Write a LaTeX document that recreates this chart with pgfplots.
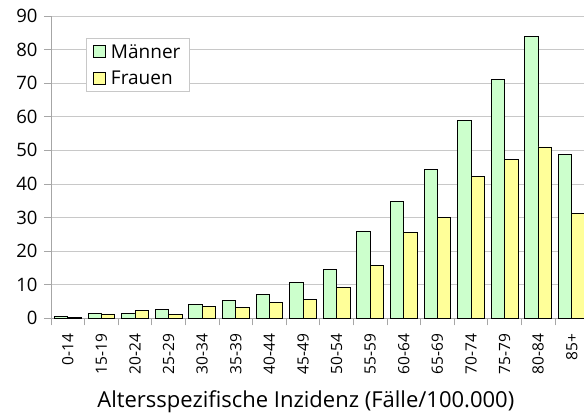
\documentclass[border=0pt]{standalone}
\usepackage{fontspec}
\setmainfont{Open Sans}
\usepackage{pgfplots}
\pgfplotsset{compat=1.18}
\definecolor{mgreen}{HTML}{CCFFCC}
\definecolor{fyellow}{HTML}{FFFF99}
\definecolor{gridgray}{HTML}{C8C8C8}
\definecolor{axgray}{HTML}{A6A6A6}
\newcommand{\xl}{\fontsize{15.5}{17}\selectfont}
\begin{document}
\begin{tikzpicture}
\begin{axis}[
  scale only axis, width=537.6pt, height=302.3pt,
  xmin=-0.5, xmax=15.5, ymin=0, ymax=90,
  ybar=0pt, bar width=13.4pt,
  axis x line*=bottom, axis y line*=left,
  axis line style={draw=axgray, line width=0.8pt, -},
  xtick={-0.5,0.5,1.5,2.5,3.5,4.5,5.5,6.5,7.5,8.5,9.5,10.5,11.5,12.5,13.5,14.5,15.5},
  x tick label as interval,
  xticklabels={\xl 0-14,\xl 15-19,\xl 20-24,\xl 25-29,\xl 30-34,\xl 35-39,\xl 40-44,\xl 45-49,\xl 50-54,\xl 55-59,\xl 60-64,\xl 65-69,\xl 70-74,\xl 75-79,\xl 80-84,\xl 85+},
  xticklabel style={rotate=90, anchor=east, xshift=-5pt},
  ytick={0,10,...,90},
  yticklabel={\fontsize{18.5}{20}\selectfont\pgfmathprintnumber{\tick}},
  ymajorgrids, grid style={draw=gridgray, line width=0.8pt},
  tick align=outside, major tick length=7pt,
  tick style={draw=axgray, line width=0.8pt},
  yticklabel style={xshift=-3pt},
  /pgf/number format/assume math mode=true,
  legend style={at={(axis description cs:0.0651,0.9272)}, anchor=north west,
    draw=gridgray, fill=white, font=\fontsize{19}{21}\selectfont,
    inner xsep=7pt, inner ysep=4pt, row sep=7pt,
    /tikz/every odd column/.append style={column sep=3pt}},
  legend cell align=left,
  legend image code/.code={\draw[#1, line width=0.8pt] (0pt,-6pt) rectangle (12pt,6pt);},
  xlabel={Altersspezifische Inzidenz (Fälle/100.000)},
  xlabel style={at={(axis description cs:0.474,-0.2935)}, anchor=base, font=\fontsize{22}{24}\selectfont},
]
\addplot[draw=black, fill=mgreen, line width=0.8pt] coordinates {
(0,0.6) (1,1.5) (2,1.4) (3,2.7) (4,4.2) (5,5.4) (6,7.1) (7,10.7)
(8,14.6) (9,26.0) (10,34.8) (11,44.4) (12,59.0) (13,71.0) (14,84.0) (15,48.8)};
\addplot[draw=black, fill=fyellow, line width=0.8pt] coordinates {
(0,0.3) (1,1.3) (2,2.3) (3,1.2) (4,3.4) (5,3.3) (6,4.6) (7,5.7)
(8,9.2) (9,15.8) (10,25.6) (11,30.1) (12,42.1) (13,47.4) (14,51.0) (15,31.3)};
\legend{Männer,Frauen}
\end{axis}
\pgfresetboundingbox
\path (-51pt,-100.7pt) rectangle (533pt,318.3pt);
\end{tikzpicture}
\end{document}
